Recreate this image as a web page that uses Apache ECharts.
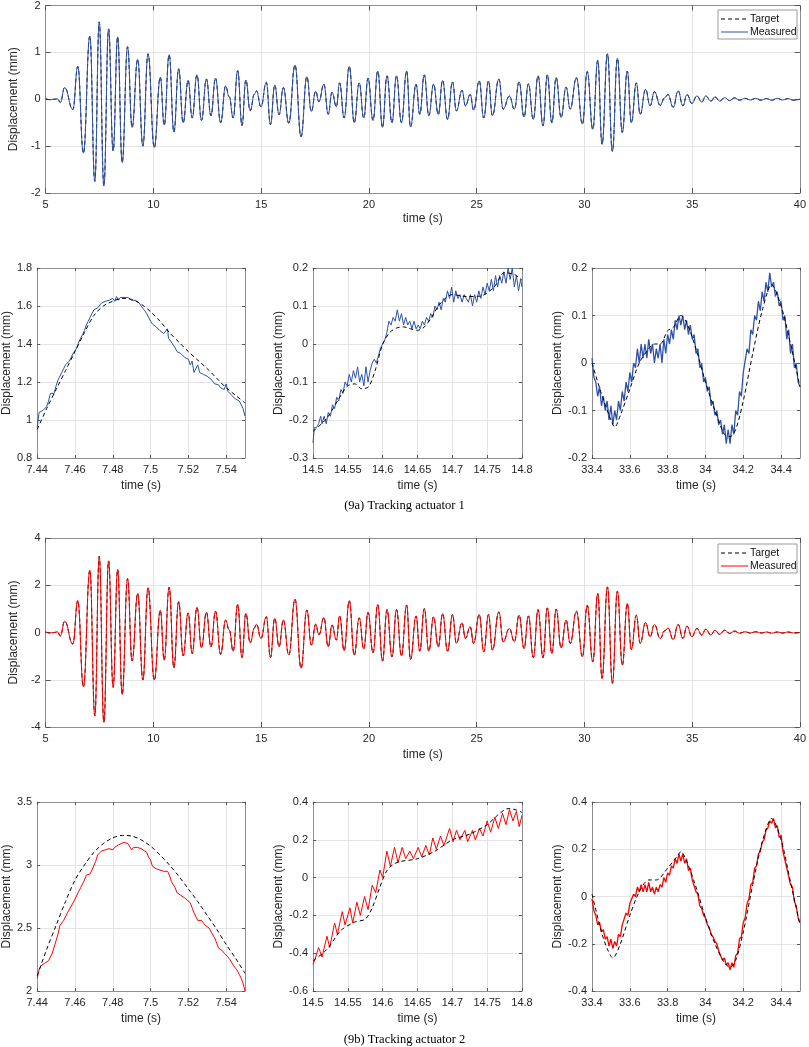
<!DOCTYPE html>
<html lang="en">
<head>
    <meta charset="UTF-8">
    <title>Tracking actuators</title>
    <style>
        html, body { margin: 0; padding: 0; background: #fff; }
    </style>
</head>
<body>
<script src="https://cdn.jsdelivr.net/npm/echarts@6/dist/echarts.min.js"></script>

<div id="main" style="width:809px;height:1047px;"></div>

<script type="text/javascript">

    // ---- full record: times of the peaks / troughs ----
    var tPeaks = [
        5.0, 5.2, 5.4, 5.55, 5.68, 5.88, 6.26, 6.49, 6.75, 7.05,
        7.28, 7.485, 7.70, 7.92, 8.13, 8.34, 8.55, 8.80, 9.01, 9.27,
        9.51, 9.75, 10.04, 10.32, 10.50, 10.73, 10.95, 11.17, 11.38, 11.61,
        11.80, 12.02, 12.23, 12.46, 12.67, 12.88, 13.12, 13.35, 13.52, 13.70,
        13.91, 14.11, 14.29, 14.49, 14.69, 14.78, 14.99, 15.24, 15.43, 15.63,
        15.83, 16.03, 16.28, 16.57, 16.85, 17.12, 17.33, 17.53, 17.68, 17.91,
        18.11, 18.29, 18.49, 18.64, 18.85, 19.09, 19.32, 19.55, 19.76, 19.96,
        20.19, 20.41, 20.63, 20.84, 21.07, 21.28, 21.51, 21.75, 21.93, 22.19,
        22.36, 22.57, 22.78, 23.00, 23.22, 23.42, 23.65, 23.88, 24.06, 24.32,
        24.48, 24.70, 24.86, 25.12, 25.33, 25.55, 25.73, 26.03, 26.23, 26.52,
        26.75, 26.97, 27.20, 27.40, 27.63, 27.85, 28.08, 28.28, 28.49, 28.69,
        28.92, 29.15, 29.34, 29.63, 29.91, 30.13, 30.39, 30.62, 30.82, 31.07,
        31.30, 31.53, 31.76, 31.99, 32.18, 32.41, 32.59, 32.84, 33.05, 33.25,
        33.52, 33.72, 33.88, 34.12, 34.35, 34.57, 34.76, 34.99, 35.22, 35.45,
        35.63, 35.87, 36.06, 36.28, 36.51, 36.74, 36.97, 37.20, 37.45, 37.70,
        37.95, 38.20, 38.45, 38.70, 38.95, 39.20, 39.45, 39.70, 40.00
    ];
    // actuator 1 (mm)
    var a1Peak = [
        0.01, -0.01, 0.0, 0.01, -0.07, 0.25, -0.22, 0.7, -1.15, 1.35,
        -1.75, 1.65, -1.85, 1.5, -1.1, 1.33, -1.35, 1.12, -0.6, 0.85,
        -1.0, 0.97, -1.03, 0.47, -0.55, 0.95, -0.7, 0.65, -0.5, 0.4,
        -0.4, 0.52, -0.45, 0.43, -0.35, 0.45, -0.5, 0.28, 0.05, -0.4,
        0.61, -0.56, 0.41, -0.245, 0.11, 0.18, -0.16, 0.36, -0.54, 0.3,
        -0.33, 0.25, -0.51, 0.73, -0.8, 0.48, -0.26, 0.17, -0.05, 0.32,
        -0.32, 0.15, -0.16, 0.35, -0.4, 0.7, -0.5, 0.35, -0.4, 0.45,
        -0.45, 0.6, -0.6, 0.5, -0.5, 0.5, -0.5, 0.6, -0.59, 0.32,
        -0.32, 0.52, -0.35, 0.32, -0.32, 0.4, -0.43, 0.37, -0.25, 0.19,
        -0.14, 0.1, -0.23, 0.39, -0.4, 0.39, -0.35, 0.43, -0.21, 0.07,
        -0.21, 0.37, -0.38, 0.33, -0.43, 0.5, -0.57, 0.52, -0.5, 0.46,
        -0.39, 0.26, -0.21, 0.46, -0.53, 0.59, -0.64, 0.83, -0.96, 0.97,
        -1.11, 0.87, -0.71, 0.6, -0.5, 0.35, -0.32, 0.21, -0.14, 0.16,
        -0.13, 0.03, 0.1, -0.17, 0.18, -0.14, 0.1, -0.09, 0.07, -0.06,
        0.07, -0.04, 0.05, -0.04, 0.035, -0.03, 0.03, -0.02, 0.02, -0.015,
        0.02, -0.02, 0.015, -0.02, 0.02, -0.015, 0.015, -0.02, 0.0
    ];
    // actuator 2 (mm)
    var a2Peak = [
        0.02, -0.02, 0.0, 0.03, -0.15, 0.48, -0.49, 1.35, -2.3, 2.63,
        -3.53, 3.22, -3.8, 3.03, -2.32, 2.66, -2.62, 2.28, -1.21, 1.65,
        -2.01, 1.89, -2.01, 0.94, -1.17, 1.92, -1.49, 1.3, -0.99, 0.83,
        -0.89, 1.06, -0.65, 0.85, -0.61, 0.9, -0.92, 0.52, 0.1, -0.79,
        1.19, -1.06, 0.81, -0.44, 0.2, 0.35, -0.25, 0.67, -1.06, 0.6,
        -0.6, 0.53, -0.95, 1.41, -1.51, 0.95, -0.53, 0.35, -0.1, 0.63,
        -0.6, 0.32, -0.32, 0.7, -0.77, 1.34, -0.96, 0.62, -0.7, 0.85,
        -0.86, 1.18, -1.21, 0.97, -1.03, 0.97, -0.99, 1.16, -1.14, 0.7,
        -0.79, 1.01, -0.79, 0.66, -0.61, 0.8, -0.79, 0.76, -0.46, 0.41,
        -0.25, 0.24, -0.46, 0.76, -0.82, 0.76, -0.75, 0.87, -0.39, 0.17,
        -0.39, 0.73, -0.68, 0.7, -1.06, 0.97, -1.07, 1.04, -0.89, 0.99,
        -0.65, 0.52, -0.46, 0.9, -1.03, 1.15, -1.24, 1.65, -1.94, 1.93,
        -2.15, 1.75, -1.38, 1.23, -0.72, 0.73, -0.46, 0.42, -0.18, 0.34,
        -0.26, 0.07, 0.19, -0.3, 0.34, -0.25, 0.27, -0.18, 0.17, -0.11,
        0.14, -0.11, 0.1, -0.08, 0.1, -0.04, 0.06, -0.03, 0.03, -0.02,
        0.03, -0.02, 0.02, -0.03, 0.02, -0.02, 0.02, -0.02, 0.0
    ];

    // ---- zoom windows, [time, mm] ----
    var a1TargetA = [[7.44,0.95],[7.445,1.06],[7.45,1.16],[7.455,1.26],[7.46,1.36],[7.465,1.46],[7.47,1.55],
        [7.475,1.6],[7.48,1.625],[7.485,1.64],[7.49,1.635],[7.495,1.61],[7.50,1.57],[7.505,1.52],[7.51,1.46],
        [7.515,1.41],[7.52,1.36],[7.525,1.315],[7.53,1.27],[7.535,1.22],[7.54,1.17],[7.545,1.13],[7.55,1.09]];
    var a1MeasA = [[7.4400,0.96],[7.4405,1.00],[7.4410,1.04],[7.4420,1.04],[7.4430,1.05],[7.4440,1.05],[7.4450,1.07],
        [7.4460,1.10],[7.4470,1.14],[7.4480,1.15],[7.4490,1.14],[7.4500,1.18],[7.4510,1.21],[7.4520,1.22],[7.4530,1.25],
        [7.4540,1.27],[7.4550,1.29],[7.4560,1.28],[7.4570,1.31],[7.4580,1.33],[7.4590,1.35],[7.4600,1.34],[7.4610,1.38],
        [7.4620,1.41],[7.4630,1.43],[7.4640,1.45],[7.4650,1.47],[7.4660,1.50],[7.4670,1.52],[7.4680,1.54],[7.4690,1.56],
        [7.4700,1.58],[7.4710,1.585],[7.4720,1.59],[7.4730,1.60],[7.4740,1.615],[7.4750,1.61],[7.4760,1.625],[7.4770,1.615],
        [7.4780,1.63],[7.4790,1.62],[7.4800,1.64],[7.4810,1.625],[7.4820,1.65],[7.4830,1.63],[7.4840,1.645],[7.4850,1.64],
        [7.4860,1.645],[7.4870,1.64],[7.4880,1.645],[7.4890,1.64],[7.4900,1.63],[7.4910,1.635],[7.4920,1.63],[7.4930,1.62],
        [7.4940,1.615],[7.4950,1.60],[7.4960,1.59],[7.4970,1.575],[7.4980,1.56],[7.4990,1.55],[7.5000,1.52],[7.5010,1.505],
        [7.5020,1.50],[7.5030,1.49],[7.5040,1.485],[7.5050,1.47],[7.5060,1.465],[7.5070,1.455],[7.5080,1.45],[7.5090,1.48],
        [7.5095,1.43],[7.5100,1.43],[7.5110,1.41],[7.5120,1.40],[7.5130,1.38],[7.5140,1.36],[7.5150,1.36],[7.5160,1.35],
        [7.5170,1.34],[7.5180,1.33],[7.5190,1.32],[7.5200,1.32],[7.5210,1.29],[7.5220,1.31],[7.5230,1.25],[7.5240,1.26],
        [7.5250,1.29],[7.5260,1.25],[7.5270,1.25],[7.5280,1.24],[7.5290,1.235],[7.5300,1.23],[7.5310,1.22],[7.5320,1.215],
        [7.5330,1.21],[7.5340,1.19],[7.5350,1.19],[7.5360,1.185],[7.5370,1.17],[7.5380,1.18],[7.5390,1.16],[7.5400,1.19],
        [7.5410,1.15],[7.5420,1.14],[7.5430,1.13],[7.5440,1.12],[7.5450,1.11],[7.5460,1.10],[7.5470,1.10],[7.5480,1.09],
        [7.5490,1.06],[7.5500,1.02]];

    var a1TargetB = [[14.50,-0.23],[14.52,-0.195],[14.54,-0.135],[14.55,-0.11],[14.56,-0.105],[14.57,-0.118],
        [14.58,-0.112],[14.59,-0.065],[14.60,0.0],[14.61,0.03],[14.62,0.042],[14.63,0.045],[14.64,0.04],[14.65,0.036],
        [14.66,0.045],[14.67,0.07],[14.68,0.1],[14.69,0.12],[14.70,0.13],[14.72,0.125],[14.74,0.126],[14.76,0.15],
        [14.775,0.188],[14.79,0.182],[14.80,0.168]];
    var a1MeasB = [[14.500,-0.26],[14.502,-0.22],[14.505,-0.22],[14.508,-0.21],[14.511,-0.19],[14.513,-0.21],
        [14.516,-0.19],[14.519,-0.21],[14.522,-0.18],[14.525,-0.19],[14.528,-0.16],[14.531,-0.17],[14.534,-0.14],
        [14.537,-0.15],[14.540,-0.12],[14.543,-0.13],[14.546,-0.10],[14.549,-0.11],[14.552,-0.08],[14.555,-0.10],
        [14.558,-0.07],[14.561,-0.09],[14.564,-0.06],[14.567,-0.10],[14.570,-0.08],[14.573,-0.11],[14.576,-0.06],
        [14.579,-0.10],[14.582,-0.07],[14.585,-0.05],[14.588,-0.04],[14.591,-0.05],[14.594,-0.03],[14.597,-0.01],
        [14.600,0.00],[14.603,0.01],[14.606,0.03],[14.609,0.06],[14.612,0.05],[14.615,0.07],[14.618,0.06],[14.621,0.09],
        [14.624,0.06],[14.627,0.08],[14.630,0.05],[14.633,0.07],[14.636,0.05],[14.639,0.06],[14.642,0.04],[14.645,0.06],
        [14.648,0.04],[14.651,0.05],[14.654,0.04],[14.657,0.06],[14.660,0.05],[14.663,0.07],[14.666,0.06],[14.669,0.08],
        [14.672,0.07],[14.675,0.10],[14.678,0.09],[14.681,0.11],[14.684,0.09],[14.687,0.12],[14.690,0.11],[14.693,0.14],
        [14.696,0.12],[14.699,0.15],[14.702,0.11],[14.705,0.14],[14.708,0.12],[14.711,0.13],[14.714,0.11],[14.717,0.13],
        [14.720,0.12],[14.723,0.11],[14.726,0.13],[14.729,0.10],[14.732,0.13],[14.735,0.11],[14.738,0.14],[14.741,0.12],
        [14.744,0.15],[14.747,0.13],[14.750,0.16],[14.753,0.14],[14.756,0.17],[14.759,0.14],[14.762,0.18],[14.765,0.15],
        [14.768,0.18],[14.771,0.16],[14.774,0.19],[14.777,0.16],[14.780,0.20],[14.783,0.17],[14.786,0.20],[14.789,0.15],
        [14.792,0.18],[14.795,0.14],[14.798,0.17],[14.800,0.15]];

    var a1TargetC = [[33.40,0.0],[33.45,-0.065],[33.50,-0.12],[33.52,-0.135],[33.55,-0.11],[33.60,-0.055],[33.65,0.0],
        [33.70,0.03],[33.73,0.04],[33.76,0.04],[33.80,0.068],[33.83,0.075],[33.87,0.1],[33.90,0.085],[33.95,0.03],
        [34.00,-0.04],[34.05,-0.1],[34.10,-0.15],[34.13,-0.155],[34.16,-0.14],[34.20,-0.08],[34.25,0.02],[34.30,0.11],
        [34.35,0.165],[34.40,0.12],[34.45,0.04],[34.50,-0.05]];
    var a1MeasCt = [33.40, 34.50, 0.01]; // start, end, step of the sampled values below
    var a1MeasC = [
        0.01, -0.03, -0.04, -0.07, -0.05, -0.09, -0.07, -0.10, -0.08, -0.12,
        -0.09, -0.13, -0.10, -0.12, -0.08, -0.10, -0.06, -0.08, -0.04, -0.06,
        -0.02, -0.04, 0.00, -0.01, 0.03, 0.00, 0.04, 0.01, 0.04, 0.01,
        0.05, 0.02, 0.04, 0.00, 0.03, 0.01, 0.04, 0.00, 0.05, 0.02,
        0.06, 0.04, 0.07, 0.05, 0.09, 0.07, 0.10, 0.08, 0.10, 0.07,
        0.09, 0.06, 0.08, 0.05, 0.06, 0.02, 0.03, -0.01, 0.00, -0.04,
        -0.03, -0.06, -0.05, -0.09, -0.08, -0.11, -0.10, -0.13, -0.12, -0.15,
        -0.13, -0.17, -0.14, -0.17, -0.13, -0.15, -0.10, -0.11, -0.06, -0.07,
        -0.02, -0.02, 0.03, 0.02, 0.07, 0.06, 0.10, 0.09, 0.13, 0.11,
        0.15, 0.13, 0.17, 0.15, 0.19, 0.16, 0.17, 0.14, 0.15, 0.12,
        0.13, 0.09, 0.10, 0.05, 0.07, 0.02, 0.04, -0.01, 0.00, -0.04,
        -0.05
    ];

    var a2TargetA = [[7.44,2.12],[7.445,2.33],[7.45,2.52],[7.455,2.71],[7.46,2.88],[7.465,3.0],[7.47,3.1],
        [7.475,3.17],[7.48,3.215],[7.485,3.235],[7.49,3.23],[7.495,3.2],[7.50,3.15],[7.505,3.08],[7.51,3.0],
        [7.515,2.91],[7.52,2.81],[7.525,2.71],[7.53,2.6],[7.535,2.49],[7.54,2.37],[7.545,2.26],[7.55,2.14]];
    var a2MeasA = [[7.440,2.10],[7.441,2.17],[7.442,2.20],[7.444,2.22],[7.446,2.24],[7.448,2.30],[7.450,2.40],
        [7.451,2.45],[7.452,2.52],[7.454,2.56],[7.456,2.62],[7.457,2.63],[7.459,2.70],[7.460,2.73],[7.461,2.74],
        [7.463,2.82],[7.465,2.88],[7.466,2.92],[7.468,2.93],[7.469,2.96],[7.471,3.03],[7.472,3.08],[7.474,3.11],
        [7.476,3.12],[7.477,3.11],[7.478,3.13],[7.480,3.12],[7.481,3.14],[7.482,3.13],[7.483,3.16],[7.484,3.15],
        [7.486,3.18],[7.488,3.17],[7.489,3.16],[7.490,3.12],[7.491,3.14],[7.493,3.14],[7.495,3.13],[7.496,3.14],
        [7.498,3.10],[7.499,3.06],[7.500,3.04],[7.501,2.99],[7.503,2.97],[7.505,2.96],[7.507,2.95],[7.509,2.95],
        [7.510,2.92],[7.511,2.87],[7.513,2.82],[7.514,2.78],[7.516,2.76],[7.518,2.74],[7.519,2.73],[7.521,2.70],
        [7.522,2.66],[7.523,2.62],[7.524,2.62],[7.525,2.56],[7.526,2.55],[7.527,2.56],[7.529,2.52],[7.531,2.50],
        [7.532,2.47],[7.534,2.42],[7.535,2.38],[7.536,2.34],[7.538,2.32],[7.539,2.30],[7.540,2.29],[7.541,2.27],
        [7.542,2.25],[7.543,2.24],[7.544,2.20],[7.545,2.18],[7.546,2.16],[7.547,2.13],[7.548,2.10],[7.549,2.06],
        [7.550,2.00]];

    var a2TargetB = [[14.50,-0.44],[14.52,-0.38],[14.54,-0.28],[14.56,-0.235],[14.575,-0.22],[14.585,-0.16],
        [14.595,-0.06],[14.605,0.03],[14.615,0.07],[14.625,0.085],[14.65,0.1],[14.675,0.14],[14.70,0.2],
        [14.725,0.23],[14.75,0.28],[14.765,0.33],[14.78,0.365],[14.79,0.36],[14.80,0.345]];
    var a2MeasB = [[14.500,-0.46],[14.503,-0.43],[14.508,-0.37],[14.513,-0.42],[14.520,-0.31],[14.524,-0.37],
        [14.531,-0.24],[14.535,-0.30],[14.542,-0.18],[14.546,-0.25],[14.553,-0.16],[14.557,-0.24],[14.563,-0.13],
        [14.568,-0.20],[14.574,-0.10],[14.579,-0.17],[14.585,-0.04],[14.590,-0.08],[14.596,0.04],[14.600,0.00],
        [14.606,0.14],[14.611,0.06],[14.617,0.16],[14.622,0.08],[14.628,0.16],[14.633,0.10],[14.639,0.14],
        [14.644,0.10],[14.651,0.16],[14.656,0.11],[14.662,0.17],[14.667,0.12],[14.672,0.21],[14.677,0.15],
        [14.683,0.22],[14.688,0.17],[14.696,0.26],[14.701,0.19],[14.706,0.25],[14.711,0.20],[14.718,0.25],
        [14.722,0.19],[14.729,0.25],[14.733,0.20],[14.739,0.26],[14.744,0.22],[14.750,0.30],[14.755,0.24],
        [14.761,0.32],[14.766,0.26],[14.772,0.34],[14.777,0.28],[14.782,0.36],[14.787,0.30],[14.792,0.35],
        [14.796,0.27],[14.800,0.33]];

    var a2TargetC = [[33.40,0.01],[33.45,-0.15],[33.48,-0.22],[33.51,-0.26],[33.55,-0.2],[33.60,-0.08],[33.65,0.02],
        [33.70,0.07],[33.74,0.07],[33.80,0.12],[33.85,0.17],[33.87,0.19],[33.90,0.15],[33.95,0.04],[34.00,-0.09],
        [34.05,-0.2],[34.10,-0.28],[34.13,-0.3],[34.16,-0.27],[34.20,-0.15],[34.25,0.05],[34.30,0.23],[34.35,0.33],
        [34.40,0.24],[34.45,0.06],[34.50,-0.12]];
    var a2MeasCt = [33.40, 34.50, 0.01];
    var a2MeasC = [
        -0.01, -0.06, -0.08, -0.12, -0.11, -0.15, -0.14, -0.18, -0.17, -0.21,
        -0.18, -0.22, -0.19, -0.21, -0.16, -0.17, -0.12, -0.12, -0.07, -0.08,
        -0.03, -0.03, 0.01, 0.00, 0.04, 0.02, 0.05, 0.02, 0.05, 0.02,
        0.06, 0.02, 0.04, 0.01, 0.04, 0.02, 0.05, 0.04, 0.08, 0.06,
        0.10, 0.09, 0.13, 0.12, 0.16, 0.14, 0.18, 0.15, 0.18, 0.14,
        0.16, 0.11, 0.12, 0.07, 0.07, 0.02, 0.01, -0.04, -0.05, -0.08,
        -0.09, -0.12, -0.13, -0.16, -0.17, -0.19, -0.20, -0.23, -0.23, -0.27,
        -0.26, -0.29, -0.28, -0.31, -0.28, -0.30, -0.25, -0.24, -0.18, -0.17,
        -0.11, -0.09, -0.03, -0.01, 0.05, 0.06, 0.12, 0.13, 0.18, 0.19,
        0.23, 0.24, 0.28, 0.29, 0.32, 0.31, 0.33, 0.29, 0.30, 0.25,
        0.26, 0.19, 0.19, 0.12, 0.12, 0.05, 0.04, -0.02, -0.04, -0.09,
        -0.11
    ];

    // axis ranges: [min, max, interval]
    var xRanges = [[5, 40, 5], [7.44, 7.55, 0.02], [14.5, 14.8, 0.05], [33.4, 34.5, 0.2],
                   [5, 40, 5], [7.44, 7.55, 0.02], [14.5, 14.8, 0.05], [33.4, 34.5, 0.2]];
    var yRanges = [[-2, 2, 1], [0.8, 1.8, 0.2], [-0.3, 0.2, 0.1], [-0.2, 0.2, 0.1],
                   [-4, 4, 2], [2, 3.5, 0.5], [-0.6, 0.4, 0.2], [-0.4, 0.4, 0.2]];
    var captions = ['(9a) Tracking actuator 1', '(9b) Tracking actuator 2'];
    var legendNames = ['Target', 'Measured'];

    // ---- layout ----
    var boxes = [
        {left: 35, top: 4, width: 768, height: 189, yGap: 17, xGap: 20, tick: 5},
        {left: 35, top: 268, width: 210, height: 190, yGap: 22, xGap: 22, tick: 3},
        {left: 313, top: 268, width: 209, height: 190, yGap: 26, xGap: 22, tick: 3},
        {left: 592, top: 268, width: 208, height: 190, yGap: 26, xGap: 22, tick: 3},
        {left: 35, top: 538, width: 768, height: 189, yGap: 17, xGap: 22, tick: 5},
        {left: 35, top: 802, width: 210, height: 189, yGap: 22, xGap: 22, tick: 3},
        {left: 313, top: 802, width: 209, height: 189, yGap: 26, xGap: 22, tick: 3},
        {left: 592, top: 802, width: 208, height: 189, yGap: 26, xGap: 22, tick: 3}
    ];

    var FONT = "'Liberation Sans', Arial, sans-serif";
    var TXT = '#262626';
    var BOX = '#8f8f8f';
    var GRIDC = '#e4e4e4';
    var BLUE = '#2f52a8';
    var RED = '#ff0000';

    function zip(t, v) {
        var out = [];
        for (var i = 0; i < t.length; i++) out.push([t[i], v[i]]);
        return out;
    }
    function sampled(range, v) {
        var out = [];
        for (var i = 0; i < v.length; i++) {
            out.push([+(range[0] + i * range[2]).toFixed(4), v[i]]);
        }
        return out;
    }

    var grids = [], xAxes = [], yAxes = [];
    boxes.forEach(function (b, i) {
        var xr = xRanges[i], yr = yRanges[i];
        var hideMax = Math.abs((xr[1] - xr[0]) / xr[2] - Math.round((xr[1] - xr[0]) / xr[2])) > 1e-6;
        grids.push({left: b.left, top: b.top, width: b.width, height: b.height});
        var line = {show: true, onZero: false, lineStyle: {color: BOX, width: 1}};
        var tk = {show: true, inside: true, length: b.tick, lineStyle: {color: '#555'}};
        xAxes.push({
            gridIndex: i, type: 'value', position: 'bottom',
            min: xr[0], max: xr[1], interval: xr[2],
            name: 'time (s)', nameLocation: 'middle', nameGap: b.xGap,
            nameTextStyle: {fontFamily: FONT, fontSize: 12, color: TXT},
            axisLine: line, axisTick: tk,
            axisLabel: {fontFamily: FONT, fontSize: 11, color: TXT, margin: 6, showMaxLabel: !hideMax},
            splitLine: {show: true, lineStyle: {color: GRIDC, width: 1}}
        });
        xAxes.push({
            gridIndex: i, type: 'value', position: 'top',
            min: xr[0], max: xr[1], interval: xr[2],
            axisLine: line, axisTick: tk, axisLabel: {show: false}, splitLine: {show: false}
        });
        yAxes.push({
            gridIndex: i, type: 'value', position: 'left',
            min: yr[0], max: yr[1], interval: yr[2],
            name: 'Displacement (mm)', nameLocation: 'middle', nameGap: b.yGap,
            nameTextStyle: {fontFamily: FONT, fontSize: 12, color: TXT},
            axisLine: line, axisTick: tk,
            axisLabel: {fontFamily: FONT, fontSize: 11, color: TXT, margin: 5},
            splitLine: {show: true, lineStyle: {color: GRIDC, width: 1}}
        });
        yAxes.push({
            gridIndex: i, type: 'value', position: 'right',
            min: yr[0], max: yr[1], interval: yr[2],
            axisLine: line, axisTick: tk, axisLabel: {show: false}, splitLine: {show: false}
        });
    });

    function target(i, data, smooth, z) {
        return {
            name: legendNames[0], type: 'line', xAxisIndex: 2 * i, yAxisIndex: 2 * i,
            data: data, symbol: 'none', smooth: smooth, smoothMonotone: i % 4 === 0 ? 'x' : undefined,
            lineStyle: {color: '#000', width: 1, type: [4, 3]}, itemStyle: {color: '#000'},
            z: z, silent: true
        };
    }
    function measured(i, data, color, smooth, z, w) {
        return {
            name: legendNames[1], type: 'line', xAxisIndex: 2 * i, yAxisIndex: 2 * i,
            data: data, symbol: 'none', smooth: smooth, smoothMonotone: smooth ? 'x' : undefined,
            lineStyle: {color: color, width: w || 1}, itemStyle: {color: color},
            z: z, silent: true
        };
    }

    var full1 = zip(tPeaks, a1Peak);
    var full2 = zip(tPeaks, a2Peak);

    var series = [
        target(0, full1, 0.45, 2), measured(0, full1, BLUE, 0.45, 3),
        measured(1, a1MeasA, BLUE, false, 2), target(1, a1TargetA, 0.3, 3),
        measured(2, a1MeasB, BLUE, false, 2), target(2, a1TargetB, 0.3, 3),
        measured(3, sampled(a1MeasCt, a1MeasC), BLUE, false, 2, 1.3), target(3, a1TargetC, 0.3, 3),
        target(4, full2, 0.45, 2), measured(4, full2, RED, 0.45, 3),
        measured(5, a2MeasA, RED, false, 2), target(5, a2TargetA, 0.3, 3),
        measured(6, a2MeasB, RED, false, 2), target(6, a2TargetB, 0.3, 3),
        measured(7, sampled(a2MeasCt, a2MeasC), RED, false, 2, 1.3), target(7, a2TargetC, 0.3, 3)
    ];

    // MATLAB-style legend box, drawn as graphic elements
    function legendBox(top, color) {
        return [
            {type: 'rect', shape: {x: 718, y: top, width: 79, height: 29},
             style: {fill: '#fff', stroke: '#9a9a9a', lineWidth: 1}, z: 10},
            {type: 'line', shape: {x1: 721, y1: top + 9, x2: 748, y2: top + 9},
             style: {stroke: '#000', lineWidth: 1, lineDash: [4, 3]}, z: 11},
            {type: 'text', x: 750, y: top + 9, z: 11,
             style: {text: legendNames[0], font: '10.5px ' + FONT, fill: '#111', align: 'left', verticalAlign: 'middle'}},
            {type: 'line', shape: {x1: 721, y1: top + 22, x2: 748, y2: top + 22},
             style: {stroke: color, lineWidth: 1}, z: 11},
            {type: 'text', x: 750, y: top + 22, z: 11,
             style: {text: legendNames[1], font: '10.5px ' + FONT, fill: '#111', align: 'left', verticalAlign: 'middle'}}
        ];
    }

    var option = {
        animation: false,
        backgroundColor: '#fff',
        title: [
            {text: captions[0], left: 'center', top: 499, padding: 0,
             textStyle: {fontFamily: "'Liberation Serif', 'Times New Roman', serif", fontSize: 12.5, fontWeight: 'normal', color: '#000'}},
            {text: captions[1], left: 'center', top: 1033, padding: 0,
             textStyle: {fontFamily: "'Liberation Serif', 'Times New Roman', serif", fontSize: 12.5, fontWeight: 'normal', color: '#000'}}
        ],
        graphic: legendBox(10, BLUE).concat(legendBox(544, RED)),
        grid: grids,
        xAxis: xAxes,
        yAxis: yAxes,
        series: series
    };

    var myChart = echarts.init(document.getElementById('main'), null, {renderer: 'canvas'});
    myChart.setOption(option);
</script>
</body>
</html>
